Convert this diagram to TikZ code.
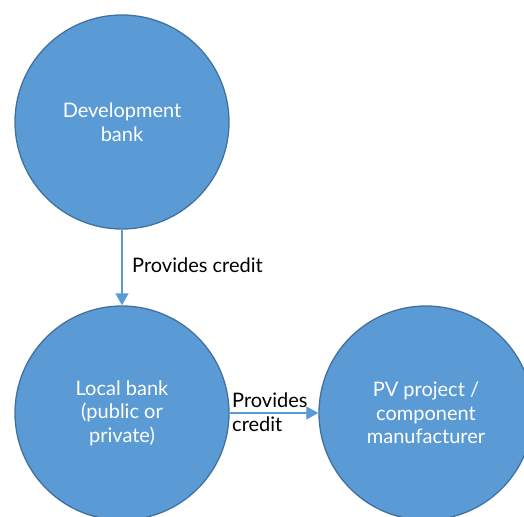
\documentclass[tikz,border=0pt]{standalone}
\usepackage{fontspec}
\setmainfont{Lato}
\usetikzlibrary{arrows.meta}
\definecolor{cfill}{HTML}{5B9BD5}
\definecolor{cdraw}{HTML}{41719C}
\definecolor{carrow}{HTML}{5B9BD5}
\begin{document}
\begin{tikzpicture}[x=1pt,y=1pt,
  bubble/.style={circle,draw=cdraw,line width=1.3pt,fill=cfill,minimum size=214pt,inner sep=0pt,
    text=white,align=center,font=\fontsize{20}{23.5}\selectfont},
  conn/.style={draw=carrow,line width=1.1pt,-{Triangle[width=13pt,length=12pt]}},
  lbl/.style={font=\fontsize{20}{23.5}\selectfont,text=black,align=left,inner sep=0pt}]
\useasboundingbox (0,0) rectangle (524,-516);
\clip (0,0) rectangle (524,-516);
\node[bubble] (dev) at (122,-122) {Development\\bank};
\node[bubble] (local) at (122,-413) {Local bank\\(public or\\private)};
\node[bubble] (pv) at (426,-413) {PV project /\\component\\manufacturer};
\draw[conn] (dev) -- (local);
\draw[conn] (local) -- (pv);
\node[lbl,anchor=west] (l1) at (132,-265) {Provides credit};
\node[lbl,anchor=west] (l2) at (232,-412) {Provides\\credit};
\end{tikzpicture}
\end{document}
